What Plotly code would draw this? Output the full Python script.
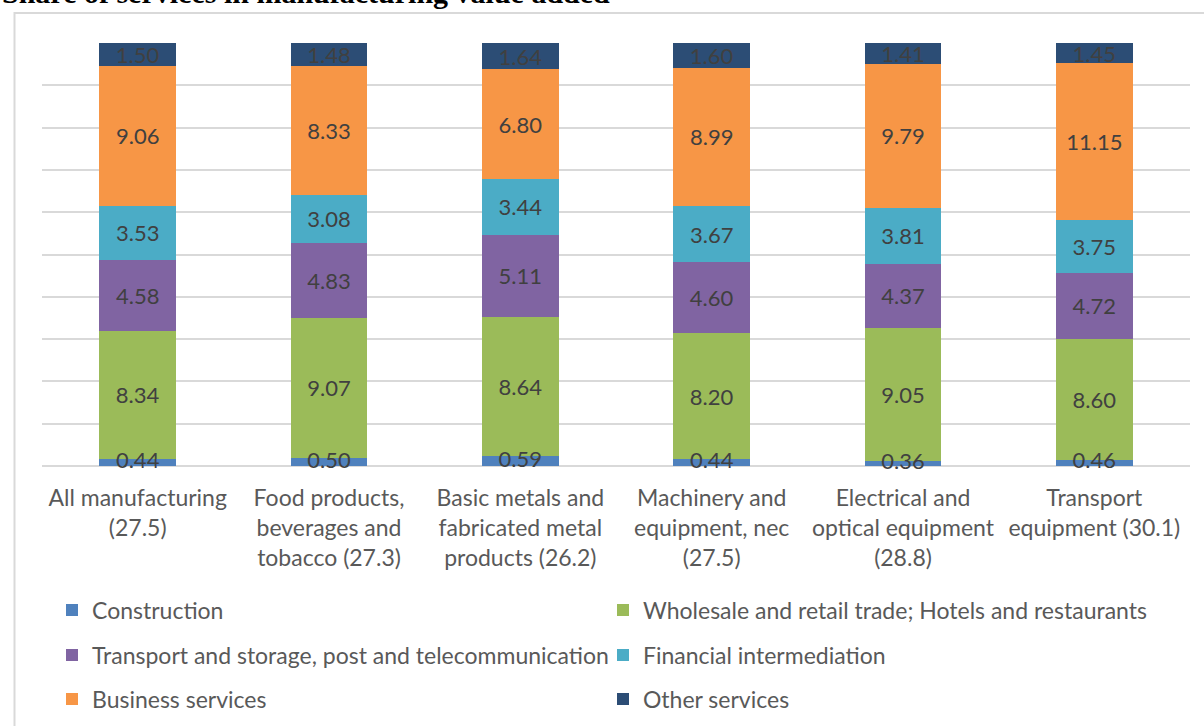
import plotly.graph_objects as go

categories = [
    "All manufacturing<br>(27.5)",
    "Food products,<br>beverages and<br>tobacco (27.3)",
    "Basic metals and<br>fabricated metal<br>products (26.2)",
    "Machinery and<br>equipment, nec<br>(27.5)",
    "Electrical and<br>optical equipment<br>(28.8)",
    "Transport<br>equipment (30.1)",
]
series_names = [
    "Construction",
    "Wholesale and retail trade; Hotels and restaurants",
    "Transport and storage, post and telecommunication",
    "Financial intermediation",
    "Business services",
    "Other services",
]
construction = [0.44, 0.50, 0.59, 0.44, 0.36, 0.46]
wholesale = [8.34, 9.07, 8.64, 8.20, 9.05, 8.60]
transport = [4.58, 4.83, 5.11, 4.60, 4.37, 4.72]
financial = [3.53, 3.08, 3.44, 3.67, 3.81, 3.75]
business = [9.06, 8.33, 6.80, 8.99, 9.79, 11.15]
other = [1.50, 1.48, 1.64, 1.60, 1.41, 1.45]

colors = ["#4F81BD", "#9BBB59", "#8064A2", "#4BACC6", "#F79646", "#2C4D75"]
legend_ids = ["legend", "legend", "legend2", "legend2", "legend3", "legend3"]
all_series = [construction, wholesale, transport, financial, business, other]

W, H = 1204, 726
ML, MR, MT, MB = 42, 14, 43, 260
PW, PH = W - ML - MR, H - MT - MB

def px_x(x):
    return (x - ML) / PW

def px_y(y):
    return (H - MB - y) / PH

FONT = "Lato, Open Sans, sans-serif"
LABEL_FONT = dict(family=FONT, size=22, color="#404040")

fig = go.Figure()
for i, (name, vals, col, lg) in enumerate(zip(series_names, all_series, colors, legend_ids)):
    fig.add_trace(go.Bar(
        x=categories, y=vals, name=name, marker_color=col, marker_line_width=0,
        text=None if i == 0 else vals,
        texttemplate=None if i == 0 else "%{text:.2f}",
        textposition="none" if i == 0 else "inside",
        insidetextanchor="middle", textangle=0, constraintext="none",
        textfont=LABEL_FONT,
        legend=lg,
    ))

# labels of the thin bottom segment, drawn on top so the next segment does not hide them
totals = [sum(s[k] for s in all_series) for k in range(len(categories))]
constr_mid = [100 * c / t / 2 for c, t in zip(construction, totals)]
fig.add_trace(go.Scatter(
    x=categories, y=constr_mid, mode="text",
    text=[f"{v:.2f}" for v in construction], textposition="middle center",
    textfont=LABEL_FONT, showlegend=False, cliponaxis=False, hoverinfo="skip",
))

legend_common = dict(
    orientation="h", xanchor="left", yanchor="middle",
    entrywidth=506, entrywidthmode="pixels",
    font=dict(family=FONT, size=23, color="#595959"),
    bgcolor="rgba(0,0,0,0)", traceorder="normal",
)
fig.update_layout(
    width=W, height=H,
    margin=dict(l=ML, r=MR, t=MT, b=MB, autoexpand=False),
    paper_bgcolor="white", plot_bgcolor="white",
    barmode="stack", barnorm="percent", bargap=0.6,
    showlegend=True,
    legend=dict(x=px_x(52), y=px_y(610), **legend_common),
    legend2=dict(x=px_x(52), y=px_y(655), **legend_common),
    legend3=dict(x=px_x(52), y=px_y(699), **legend_common),
    xaxis=dict(
        showgrid=False, showline=False, ticks="",
        tickfont=dict(family=FONT, size=23, color="#595959"),
        ticklabelstandoff=16,
    ),
    yaxis=dict(
        range=[0, 100], dtick=10, showticklabels=False,
        showgrid=True, gridcolor="#D9D9D9", gridwidth=1.5,
        zeroline=True, zerolinecolor="#D9D9D9", zerolinewidth=2,
        showline=False,
    ),
    shapes=[
        dict(type="rect", xref="paper", yref="paper",
             x0=px_x(14.5), x1=px_x(1260), y0=px_y(13), y1=px_y(800),
             line=dict(color="#D9D9D9", width=2), fillcolor="rgba(0,0,0,0)",
             layer="below"),
    ],
    annotations=[
        dict(text="<b>Share of services in manufacturing value added</b>",
             xref="paper", yref="paper", x=px_x(0), y=px_y(11),
             xanchor="left", yanchor="bottom", showarrow=False,
             font=dict(family="Liberation Serif, Times New Roman, serif", size=30, color="black")),
    ],
)

fig.write_html("out.html")
